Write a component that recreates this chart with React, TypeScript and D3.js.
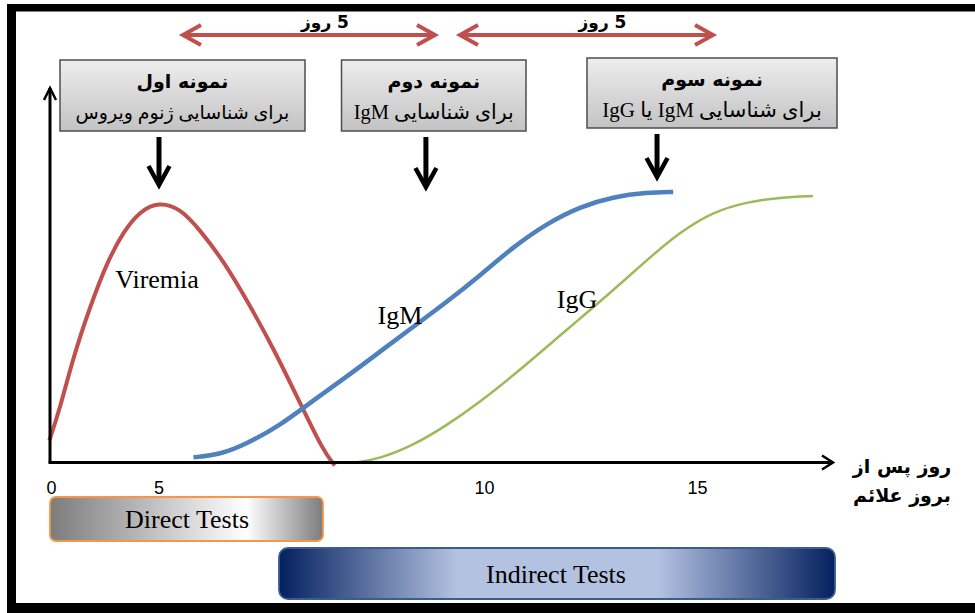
import { useEffect, useRef } from 'react';
import * as d3 from 'd3';

// days after symptom onset; the slide spaces its ticks unevenly
const tickDays = [0, 5, 10, 15];
const tickPx = [51.5, 159, 484.5, 697.5];

const viremiaDays = [-0.1, 0.4, 1.01, 1.79, 2.57, 3.33, 4.12, 4.99, 5.32, 5.63, 5.98, 6.35, 6.75, 7.17, 7.52, 7.7];
const viremiaLevel = [8.1, 20.0, 38.6, 57.1, 73.2, 84.6, 92.3, 95.6, 93.4, 85.3, 74.3, 59.6, 42.3, 21.7, 4.4, -1.1];

const igmDays = [5.53, 5.94, 6.35, 6.86, 7.37, 7.88, 8.39, 8.9, 9.42, 9.93, 10.68, 11.46, 12.24, 13.02, 13.81, 14.43];
const igmLevel = [1.9, 2.9, 6.9, 13.6, 22.8, 31.4, 40.6, 49.7, 58.9, 68.6, 79.2, 87.7, 93.9, 97.5, 99.1, 99.3];

const iggDays = [8.04, 8.39, 8.9, 9.42, 9.93, 10.68, 11.46, 12.24, 13.02, 13.81, 14.59, 15.36, 16.16, 16.94, 17.71];
const iggLevel = [0.1, 1.4, 6.2, 13.6, 22.2, 32.0, 42.4, 52.8, 63.2, 74.3, 84.6, 92.0, 95.6, 97.3, 97.8];

const curveNames = ['Viremia', 'IgM', 'IgG'];

const sampleTitles = ['نمونه اول', 'نمونه دوم', 'نمونه سوم'];
const sampleNotes = ['برای شناسایی ژنوم ویروس', 'برای شناسایی IgM', 'برای شناسایی IgM یا IgG'];
const sampleDays = [5, 9.1, 14.05];

const gapLabel = '5 روز';
const axisTitle = ['روز پس از', 'بروز علائم'];
const testNames = ['Direct Tests', 'Indirect Tests'];

export default function App() {
    const ref = useRef<SVGSVGElement | null>(null);

    useEffect(() => {
        const width = 975;
        const height = 613;
        const x0 = 50;
        const y0 = 462.5;

        const svg = d3.select(ref.current);
        svg.selectAll('*').remove();
        svg.attr('viewBox', `0 0 ${width} ${height}`);

        const x = d3.scaleLinear().domain(tickDays).range(tickPx);
        const y = d3.scaleLinear().domain([0, 100]).range([y0, 190]);

        const defs = svg.append('defs');

        const boxGrad = defs.append('linearGradient')
            .attr('id', 'boxGrad')
            .attr('x1', 0).attr('y1', 0).attr('x2', 0).attr('y2', 1);
        boxGrad.append('stop').attr('offset', 0).attr('stop-color', '#ededed');
        boxGrad.append('stop').attr('offset', 1).attr('stop-color', '#c3c3c3');

        const directGrad = defs.append('linearGradient').attr('id', 'directGrad');
        directGrad.append('stop').attr('offset', 0).attr('stop-color', '#7c7c7c');
        directGrad.append('stop').attr('offset', 0.72).attr('stop-color', '#ffffff');
        directGrad.append('stop').attr('offset', 1).attr('stop-color', '#7c7c7c');

        const indirectGrad = defs.append('linearGradient').attr('id', 'indirectGrad');
        indirectGrad.append('stop').attr('offset', 0).attr('stop-color', '#04205f');
        indirectGrad.append('stop').attr('offset', 0.32).attr('stop-color', '#b3c2e1');
        indirectGrad.append('stop').attr('offset', 0.68).attr('stop-color', '#b3c2e1');
        indirectGrad.append('stop').attr('offset', 1).attr('stop-color', '#04205f');

        svg.append('rect').attr('width', width).attr('height', height).attr('fill', '#fff');

        // === slide frame ===
        svg.append('rect').attr('x', 7).attr('y', 4).attr('width', width - 7).attr('height', 7.5).attr('fill', '#000');
        svg.append('rect').attr('x', 7).attr('y', 4).attr('width', 9).attr('height', height - 4).attr('fill', '#000');
        svg.append('rect').attr('x', 7).attr('y', 603).attr('width', width - 7).attr('height', 10).attr('fill', '#000');

        // === curves ===
        const line = d3.line<[number, number]>()
            .x((d) => x(d[0]))
            .y((d) => y(d[1]))
            .curve(d3.curveBasis);

        const series = [
            { days: viremiaDays, level: viremiaLevel, color: '#c0504d', w: 4 },
            { days: igmDays, level: igmLevel, color: '#4f81bd', w: 4.5 },
            { days: iggDays, level: iggLevel, color: '#9bbb59', w: 2.5 },
        ];
        series.forEach((s) => {
            svg.append('path')
                .attr('d', line(s.days.map((d, i) => [d, s.level[i]] as [number, number])))
                .attr('fill', 'none')
                .attr('stroke', s.color)
                .attr('stroke-width', s.w);
        });

        // === axes ===
        const axes = svg.append('g').attr('stroke', '#000').attr('fill', 'none');
        axes.append('path').attr('d', `M${x0},${y0}V88`).attr('stroke-width', 3);
        axes.append('path').attr('d', `M44,100L${x0},88L56,100`).attr('stroke-width', 2.5);
        axes.append('path').attr('d', `M${x0 - 1.5},${y0}H832`).attr('stroke-width', 3);
        axes.append('path').attr('d', `M822,${y0 - 7}L833,${y0}L822,${y0 + 7}`).attr('stroke-width', 2.5);

        svg.append('g')
            .selectAll('text')
            .data(tickDays)
            .enter()
            .append('text')
            .attr('x', (d) => x(d))
            .attr('y', 494)
            .attr('text-anchor', 'middle')
            .attr('font-family', "'Liberation Sans', Arial, sans-serif")
            .attr('font-size', 18)
            .attr('fill', '#000')
            .text((d) => d);

        svg.append('g')
            .selectAll('text')
            .data(axisTitle)
            .enter()
            .append('text')
            .attr('x', 902)
            .attr('y', (_, i) => 473 + i * 29)
            .attr('text-anchor', 'middle')
            .attr('direction', 'rtl')
            .attr('font-family', "'DejaVu Sans', sans-serif")
            .attr('font-weight', 'bold')
            .attr('font-size', 19)
            .attr('fill', '#000')
            .text((d) => d);

        // === curve labels ===
        const labelPos = [[157, 288], [400, 324], [577, 308]];
        svg.append('g')
            .selectAll('text')
            .data(curveNames)
            .enter()
            .append('text')
            .attr('x', (_, i) => labelPos[i][0])
            .attr('y', (_, i) => labelPos[i][1])
            .attr('text-anchor', 'middle')
            .attr('font-family', "'Liberation Serif', 'Times New Roman', serif")
            .attr('font-size', 26)
            .attr('fill', '#000')
            .text((d) => d);

        // === sample boxes ===
        const boxes = [
            { x1: 60, x2: 305, top: 60, bottom: 131, fs: 19 },
            { x1: 341.5, x2: 526, top: 60, bottom: 131, fs: 20.5 },
            { x1: 587, x2: 837, top: 58, bottom: 128, fs: 21 },
        ];
        const arrowEnd = [185, 187, 177];
        boxes.forEach((b, i) => {
            const cx = (b.x1 + b.x2) / 2;
            svg.append('rect')
                .attr('x', b.x1).attr('y', b.top)
                .attr('width', b.x2 - b.x1).attr('height', b.bottom - b.top)
                .attr('fill', 'url(#boxGrad)')
                .attr('stroke', '#4d4d4d')
                .attr('stroke-width', 1.5);
            svg.append('text')
                .attr('x', cx).attr('y', b.top + 28)
                .attr('text-anchor', 'middle')
                .attr('direction', 'rtl')
                .attr('font-family', "'DejaVu Sans', sans-serif")
                .attr('font-weight', 'bold')
                .attr('font-size', 19)
                .attr('fill', '#000')
                .text(sampleTitles[i]);
            svg.append('text')
                .attr('x', cx).attr('y', b.top + 59)
                .attr('text-anchor', 'middle')
                .attr('direction', 'rtl')
                .attr('font-family', "'Liberation Serif', 'DejaVu Sans', serif")
                .attr('font-size', b.fs)
                .attr('fill', '#000')
                .text(sampleNotes[i]);

            // down arrow to the sampling day
            const ax = x(sampleDays[i]);
            const ay = arrowEnd[i];
            svg.append('path')
                .attr('d', `M${ax},${b.bottom + 6}V${ay - 2}`)
                .attr('stroke', '#000').attr('stroke-width', 5).attr('fill', 'none');
            svg.append('path')
                .attr('d', `M${ax - 10.5},${ay - 19}L${ax},${ay}L${ax + 10.5},${ay - 19}`)
                .attr('stroke', '#000').attr('stroke-width', 4.5).attr('fill', 'none');
        });

        // === 5-day spans ===
        const spans = [[183, 435], [460, 713]];
        spans.forEach(([a, b]) => {
            const g = svg.append('g')
                .attr('stroke', '#c0504d').attr('stroke-width', 4).attr('fill', 'none');
            g.append('path').attr('d', `M${a + 2},35H${b - 2}`);
            g.append('path').attr('d', `M${a + 18},25L${a},35L${a + 18},45`);
            g.append('path').attr('d', `M${b - 18},25L${b},35L${b - 18},45`);
            svg.append('text')
                .attr('x', (a + b) / 2 + 16).attr('y', 28)
                .attr('text-anchor', 'middle')
                .attr('direction', 'rtl')
                .attr('font-family', "'DejaVu Sans', sans-serif")
                .attr('font-weight', 'bold')
                .attr('font-size', 17)
                .attr('fill', '#000')
                .text(gapLabel);
        });

        // === test bars ===
        const bars = [
            { x1: 50, x2: 323, top: 497, bottom: 541, fill: 'url(#directGrad)', stroke: '#f79646', rx: 6, ty: 528 },
            { x1: 279, x2: 835, top: 548, bottom: 599, fill: 'url(#indirectGrad)', stroke: '#3a5d8c', rx: 9, ty: 583 },
        ];
        bars.forEach((b, i) => {
            svg.append('rect')
                .attr('x', b.x1).attr('y', b.top)
                .attr('width', b.x2 - b.x1).attr('height', b.bottom - b.top)
                .attr('rx', b.rx)
                .attr('fill', b.fill)
                .attr('stroke', b.stroke)
                .attr('stroke-width', 1.8);
            svg.append('text')
                .attr('x', i === 0 ? 187 : 556).attr('y', b.ty)
                .attr('text-anchor', 'middle')
                .attr('font-family', "'Liberation Serif', 'Times New Roman', serif")
                .attr('font-size', 26)
                .attr('fill', '#000')
                .text(testNames[i]);
        });
    }, []);

    return (
        <svg
            ref={ref}
            width={975}
            height={613}
            style={{ position: 'absolute', left: 0, top: 0 }}
        />
    );
}
